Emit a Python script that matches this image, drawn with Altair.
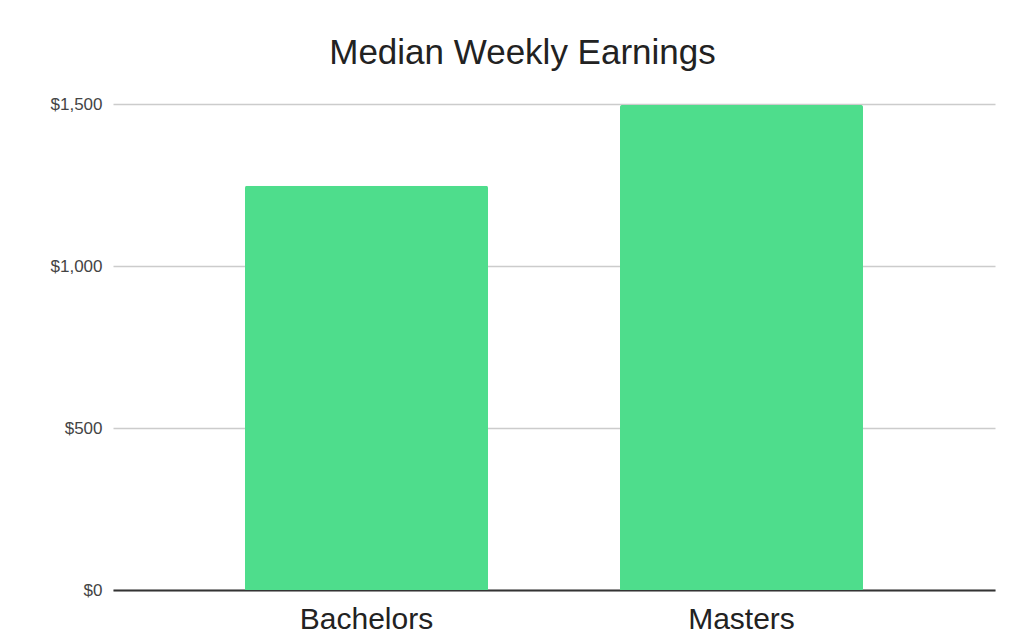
import altair as alt
import pandas as pd

categories = ["Bachelors", "Masters"]
earnings = [1248, 1497]
y_ticks = [0, 500, 1000, 1500]

df = pd.DataFrame({"degree": categories, "earnings": earnings})

chart = alt.Chart(df).mark_bar(
    color="#4edd8c", cornerRadiusTopLeft=2, cornerRadiusTopRight=2
).encode(
    x=alt.X("degree:N", sort=categories, title=None,
            scale=alt.Scale(paddingInner=0.352, paddingOuter=0.352),
            axis=alt.Axis(labelAngle=0, labelFont="Liberation Sans", labelFontSize=30,
                          labelColor="#222", labelPadding=14, ticks=False,
                          domainColor="#333", domainWidth=2)),
    y=alt.Y("earnings:Q", title=None,
            scale=alt.Scale(domain=[0, 1500], nice=False),
            axis=alt.Axis(values=y_ticks, format="$,.0f", labelFont="Liberation Sans",
                          labelFontSize=17, labelColor="#444", labelPadding=11,
                          ticks=False, domain=False, gridColor="#cccccc", gridWidth=1.5)),
).properties(
    width=882, height=486,
    title=alt.TitleParams("Median Weekly Earnings", font="Liberation Sans", fontSize=35,
                          fontWeight="normal", color="#222", anchor="middle",
                          frame="bounds", offset=24),
    autosize=alt.AutoSizeParams(type="none"),
    padding={"left": 113, "top": 104, "right": 22, "bottom": 48},
    background="white",
).configure_view(stroke=None)

chart.save("out.html", embed_options={"renderer": "svg", "actions": False})
